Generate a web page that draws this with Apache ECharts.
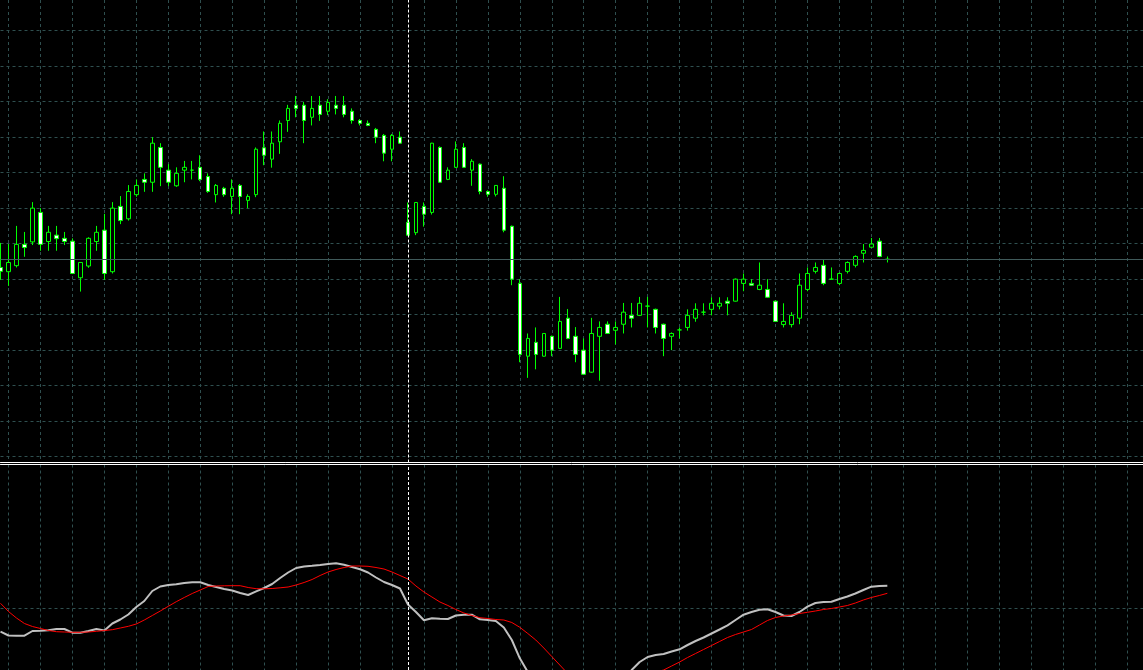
<!DOCTYPE html>
<html>
<head>
<meta charset="utf-8">
<script src="https://cdn.jsdelivr.net/npm/echarts@6/dist/echarts.min.js"></script>
<style>
html,body{margin:0;padding:0;background:#000;}
#chart{width:1143px;height:670px;}
</style>
</head>
<body>
<div id="chart"></div>
<script>
// ---- price bars (oldest -> newest) ----
const opens = [4233.2,4232.0,4233.7,4239.7,4240.4,4248.7,4240.5,4242.3,4241.4,4240.6,
 4230.3,4233.6,4240.5,4243.7,4232.0,4250.4,4246.9,4253.7,4258.0,4257.2,
 4267.0,4260.6,4256.2,4260.6,4260.6,4261.4,4258.8,4253.7,4255.5,4253.2,
 4256.3,4252.1,4253.7,4266.9,4263.7,4268.6,4274.6,4278.9,4278.9,4275.5,
 4278.9,4277.2,4278.9,4278.9,4277.2,4274.6,4273.8,4272.1,4270.4,4266.5,
 4269.9,4245.9,4243.0,4250.4,4248.7,4267.0,4258.0,4261.4,4267.0,4260.6,
 4262.3,4254.6,4253.8,4255.5,4244.8,4228.7,4208.2,4212.1,4208.2,4213.8,
 4210.4,4218.9,4213.8,4209.9,4203.7,4213.8,4217.2,4215.5,4217.2,4219.7,
 4219.7,4222.3,4221.4,4217.2,4213.8,4215.6,4216.3,4218.9,4220.6,4221.4,
 4222.3,4223.7,4223.7,4228.7,4228.7,4227.0,4227.0,4223.7,4217.1,4217.1,
 4218.9,4227.0,4232.1,4233.8,4229.9,4228.7,4232.1,4233.8,4237.2,4238.9,
 4240.6,4235.5];
const highs = [4240.1,4239.8,4244.9,4243.2,4251.6,4249.9,4244.9,4244.9,4243.2,4241.4,
 4234.6,4241.7,4244.9,4248.3,4251.6,4253.3,4256.4,4258.0,4259.7,4269.9,
 4268.2,4262.3,4261.4,4263.2,4263.2,4264.8,4259.7,4256.7,4255.9,4258.0,
 4256.7,4253.8,4267.0,4271.5,4271.5,4274.6,4279.0,4281.5,4279.8,4281.5,
 4281.5,4280.6,4281.5,4281.5,4278.0,4275.0,4274.6,4272.5,4270.8,4270.8,
 4271.5,4251.5,4251.6,4251.5,4268.3,4267.3,4261.4,4268.7,4268.2,4263.7,
 4262.5,4254.9,4256.4,4258.9,4245.0,4229.9,4214.6,4216.3,4214.7,4214.0,
 4224.9,4221.5,4216.4,4213.2,4219.0,4218.0,4218.0,4218.0,4223.2,4223.2,
 4224.9,4224.9,4221.6,4217.4,4214.9,4216.3,4221.4,4223.1,4223.1,4224.8,
 4224.8,4224.8,4230.1,4231.5,4229.9,4234.6,4229.9,4223.9,4223.1,4220.6,
 4231.5,4233.2,4234.6,4235.5,4233.2,4231.8,4234.9,4236.6,4239.8,4241.5,
 4241.5,4236.3];
const lows = [4229.7,4228.0,4233.2,4236.2,4239.5,4237.9,4237.9,4237.9,4239.5,4231.4,
 4226.4,4233.1,4237.9,4229.7,4231.5,4245.4,4246.4,4253.1,4254.5,4254.5,
 4256.1,4256.1,4255.9,4257.2,4258.0,4257.5,4254.2,4251.5,4253.1,4248.2,
 4248.2,4249.9,4253.0,4262.0,4261.3,4265.2,4271.4,4275.5,4268.2,4273.2,
 4274.5,4276.1,4276.3,4275.5,4273.7,4273.2,4273.0,4268.2,4263.1,4263.1,
 4268.0,4242.1,4242.3,4244.7,4248.1,4257.1,4257.8,4261.2,4261.2,4256.2,
 4253.8,4253.1,4253.2,4243.1,4228.2,4206.5,4202.1,4204.5,4208.1,4208.2,
 4210.2,4213.0,4206.5,4202.9,4203.5,4201.3,4214.5,4211.5,4214.6,4216.3,
 4219.5,4216.3,4214.6,4208.2,4209.9,4213.2,4215.4,4217.9,4219.7,4219.7,
 4221.4,4219.7,4223.6,4226.5,4228.0,4226.8,4224.6,4217.9,4216.3,4216.3,
 4217.2,4226.5,4231.5,4228.2,4229.9,4228.2,4231.5,4233.2,4234.6,4238.7,
 4236.1,4234.6];
const closes = [4232.1,4234.6,4239.7,4238.8,4249.9,4239.7,4243.1,4241.3,4240.5,4231.5,
 4234.6,4241.4,4243.1,4231.5,4249.9,4246.4,4254.6,4256.3,4257.2,4268.2,
 4261.4,4257.2,4259.7,4261.4,4260.6,4258.0,4254.6,4256.3,4253.7,4255.5,
 4253.2,4253.2,4266.5,4264.8,4268.2,4273.8,4278.0,4278.0,4274.6,4278.0,
 4276.3,4279.7,4278.0,4276.3,4274.6,4273.8,4273.2,4269.9,4265.4,4270.4,
 4268.2,4242.3,4251.5,4248.2,4268.2,4257.2,4260.6,4266.5,4261.4,4263.1,
 4254.6,4253.8,4256.3,4243.7,4229.9,4208.7,4213.2,4208.7,4214.6,4209.9,
 4218.0,4213.2,4208.7,4203.1,4214.6,4216.3,4214.6,4216.3,4220.6,4218.9,
 4223.1,4222.3,4216.3,4213.2,4214.6,4215.6,4219.7,4221.4,4220.6,4223.1,
 4223.1,4223.1,4229.9,4229.9,4228.2,4228.2,4224.8,4218.0,4218.0,4219.7,
 4228.2,4231.5,4233.2,4228.7,4229.9,4231.5,4234.6,4236.3,4238.0,4239.8,
 4236.3,4235.5];

// ---- oscillator sub-window ----
const mainLine = [-2.34,-2.72,-2.74,-2.74,-2.27,-2.24,-2.19,-2.07,-2.07,-2.44,
 -2.44,-2.27,-2.07,-2.22,-1.52,-1.12,-0.62,0.13,0.73,1.73,
 2.18,2.33,2.40,2.53,2.60,2.60,2.33,2.13,1.93,1.78,
 1.53,1.33,1.70,2.03,2.43,3.03,3.58,4.03,4.18,4.25,
 4.33,4.43,4.50,4.35,4.13,3.90,3.58,3.08,2.63,2.33,
 1.98,0.38,-0.37,-1.20,-1.00,-1.04,-1.07,-0.72,-0.64,-0.64,
 -1.10,-1.17,-1.27,-1.92,-3.17,-5.00,-6.37,-7.67,-8.67,-9.37,
 -9.97,-10.37,-10.67,-10.77,-10.57,-9.97,-9.17,-8.17,-7.17,-6.17,
 -5.37,-4.87,-4.67,-4.57,-4.32,-4.10,-3.67,-3.27,-2.92,-2.52,
 -2.12,-1.70,-1.17,-0.64,-0.37,-0.15,-0.10,-0.37,-0.72,-0.77,
 -0.37,0.16,0.53,0.63,0.66,0.93,1.18,1.48,1.83,2.16,
 2.23,2.26];
const signalLine = [0.50,-0.32,-0.97,-1.52,-1.82,-2.02,-2.22,-2.34,-2.37,-2.40,
 -2.40,-2.37,-2.30,-2.22,-2.14,-1.97,-1.80,-1.57,-1.17,-0.72,
 -0.27,0.20,0.66,1.08,1.48,1.83,2.18,2.23,2.25,2.26,
 2.26,2.08,1.96,1.95,1.98,2.05,2.13,2.33,2.58,2.88,
 3.28,3.63,3.88,4.08,4.23,4.23,4.20,4.08,3.93,3.63,
 3.28,2.93,2.23,1.63,1.13,0.63,0.28,-0.12,-0.47,-0.72,
 -0.94,-1.02,-1.12,-1.17,-1.42,-1.90,-2.52,-3.17,-3.97,-4.82,
 -5.67,-6.52,-7.27,-7.87,-8.27,-8.47,-8.47,-8.27,-7.97,-7.57,
 -7.17,-6.77,-6.37,-6.17,-5.77,-5.37,-4.92,-4.52,-4.12,-3.72,
 -3.32,-2.92,-2.62,-2.37,-2.12,-1.67,-1.22,-0.92,-0.77,-0.67,
 -0.52,-0.40,-0.27,-0.12,-0.02,0.13,0.28,0.53,0.83,1.08,
 1.28,1.50];
const oscLevel = 0;

// bar slots (including empty shift space on the right)
const SLOTS = 144;
const categories = Array.from({length: SLOTS}, (_, i) => String(i));
const markedBar = 51;      // vertical dashed marker
const priceTicks = {min: 4180, max: 4300, step: 10};

const candleData = opens.map((o, i) => [o, closes[i], lows[i], highs[i]]);
const lastClose = closes[closes.length - 1];

const GRID = '#2f4f4f';
const dashed = {color: GRID, type: [3, 3], width: 1};
const whiteDash = {color: '#ffffff', type: [3, 2], width: 1};
const vSplit = {show: true, interval: (idx) => idx % 4 === 1, lineStyle: dashed};
const hidden = {show: false};
const noLabelLine = {silent: true, symbol: ['none', 'none'], label: {show: false}, emphasis: {disabled: true}};

const chart = echarts.init(document.getElementById('chart'), null, {renderer: 'canvas'});
chart.setOption({
  backgroundColor: '#000000',
  animation: false,
  grid: [
    {left: 0.5, right: -1.5, top: 0, height: 462.5},
    {left: 0.5, right: -1.5, top: 30.3, bottom: 213.7},
    {left: 0.5, right: -1.5, top: 464.5, bottom: 0}
  ],
  xAxis: [
    {gridIndex: 0, type: 'category', data: categories, boundaryGap: false, position: 'bottom',
     axisLine: {show: true, onZero: false, lineStyle: {color: '#ffffff', width: 1}},
     axisTick: hidden, axisLabel: hidden, splitLine: vSplit},
    {gridIndex: 1, type: 'category', data: categories, boundaryGap: false, show: false},
    {gridIndex: 2, type: 'category', data: categories, boundaryGap: false, position: 'top',
     axisLine: {show: true, onZero: false, lineStyle: {color: '#ffffff', width: 1}},
     axisTick: hidden, axisLabel: hidden, splitLine: vSplit}
  ],
  yAxis: [
    {gridIndex: 0, type: 'value', min: 0, max: 1, show: false},
    {gridIndex: 1, type: 'value', min: priceTicks.min, max: priceTicks.max, interval: priceTicks.step,
     axisLine: hidden, axisTick: hidden, axisLabel: hidden,
     splitLine: {show: true, lineStyle: dashed}},
    {gridIndex: 2, type: 'value', min: -6.17, max: 14.38, show: false}
  ],
  series: [
    {
      type: 'line', xAxisIndex: 0, yAxisIndex: 0, data: [], silent: true,
      markLine: Object.assign({}, noLabelLine, {lineStyle: whiteDash, data: [{xAxis: markedBar}]})
    },
    {
      type: 'candlestick', xAxisIndex: 1, yAxisIndex: 1, data: candleData,
      barWidth: 4, clip: false, silent: true,
      itemStyle: {color: '#000000', color0: '#ffffff', borderColor: '#00ff00', borderColor0: '#00ff00', borderWidth: 1},
      markLine: Object.assign({}, noLabelLine, {
        lineStyle: {color: '#405a5a', type: 'solid', width: 1},
        data: [{yAxis: lastClose}]
      })
    },
    {
      type: 'line', xAxisIndex: 2, yAxisIndex: 2, data: mainLine, symbol: 'none', silent: true,
      lineStyle: {color: '#c0c0c0', width: 2}, z: 3,
      markLine: Object.assign({}, noLabelLine, {lineStyle: whiteDash, data: [{xAxis: markedBar}]})
    },
    {
      type: 'line', xAxisIndex: 2, yAxisIndex: 2, data: signalLine, symbol: 'none', silent: true,
      lineStyle: {color: '#ff0000', width: 1}, z: 4,
      markLine: Object.assign({}, noLabelLine, {lineStyle: dashed, data: [{yAxis: oscLevel}], z: 1})
    }
  ]
});
</script>
</body>
</html>
